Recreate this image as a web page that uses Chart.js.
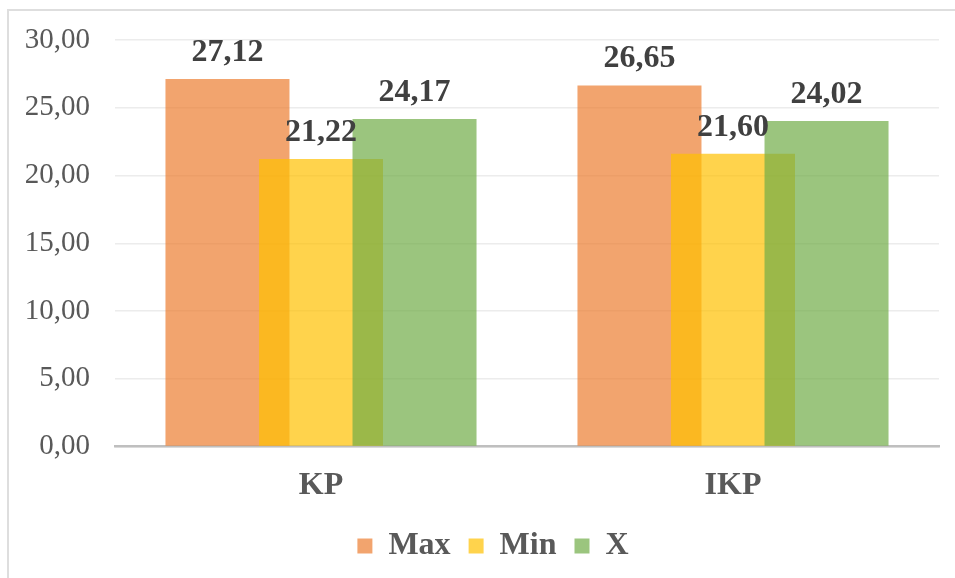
<!DOCTYPE html>
<html>
<head>
<meta charset="utf-8">
<script src="https://cdn.jsdelivr.net/npm/chart.js@4.4.0/dist/chart.umd.min.js"></script>
<style>
  html, body { margin: 0; padding: 0; background: #fff; }
  #page { position: relative; width: 955px; height: 578px; overflow: hidden; background: #fff; }
  #frame { position: absolute; left: 7px; top: 9px; border: 2px solid #dedede; width: 1000px; height: 600px; }
  #frame canvas { position: absolute; left: 0; top: 0; }
</style>
</head>
<body>
<div id="page">
  <div id="frame">
    <canvas id="chart" width="980" height="570"></canvas>
  </div>
</div>
<script>
// chart data
const categories = ['KP', 'IKP'];
const maxValues = [27.12, 26.65];
const minValues = [21.22, 21.60];
const xValues = [24.17, 24.02];
const yTicks = [0, 5, 10, 15, 20, 25, 30];

const serif = "'Liberation Serif', 'Times New Roman', serif";
const fmt = v => v.toFixed(2).replace('.', ',');

// Excel draws later series on top, Chart.js does the reverse: redraw in index order
// and put the value labels over the bars
const barLayers = {
    id: 'barLayers',
    beforeDatasetDraw() {
        return false;
    },
    afterDatasetsDraw(chart) {
        const ctx = chart.ctx;
        chart.data.datasets.forEach((ds, i) => {
            chart.getDatasetMeta(i).controller.draw();
        });
        ctx.save();
        ctx.font = 'bold 32px ' + serif;
        ctx.fillStyle = '#404040';
        ctx.textAlign = 'center';
        ctx.textBaseline = 'alphabetic';
        chart.data.datasets.forEach((ds, i) => {
            chart.getDatasetMeta(i).data.forEach((bar, j) => {
                ctx.fillText(fmt(ds.data[j]), bar.x, bar.y - 18);
            });
        });
        ctx.restore();
    }
};

new Chart(document.getElementById('chart'), {
    type: 'bar',
    data: {
        labels: categories,
        datasets: [{
            label: 'Max',
            data: maxValues,
            backgroundColor: 'rgba(237, 125, 49, 0.7)',
            borderWidth: 0
        },
        {
            label: 'Min',
            data: minValues,
            backgroundColor: 'rgba(255, 192, 0, 0.7)',
            borderWidth: 0
        },
        {
            label: 'X',
            data: xValues,
            backgroundColor: 'rgba(112, 173, 71, 0.7)',
            borderWidth: 0
        }]
    },
    options: {
        responsive: false,
        animation: false,
        categoryPercentage: 0.681,
        barPercentage: 1.326,
        layout: {
            padding: { left: 0, right: 12, top: 29, bottom: 9 }
        },
        plugins: {
            tooltip: { enabled: false },
            legend: {
                position: 'bottom',
                labels: {
                    boxWidth: 15,
                    boxHeight: 15,
                    padding: 18,
                    color: '#595959',
                    font: { family: serif, size: 32, weight: 'bold' }
                }
            }
        },
        scales: {
            x: {
                afterFit: scale => { scale.height -= 13; },
                grid: { display: false, drawTicks: false },
                border: { color: '#bfbfbf', width: 2.5 },
                ticks: {
                    padding: 20,
                    color: '#595959',
                    font: { family: serif, size: 32, weight: 'bold' }
                }
            },
            y: {
                min: yTicks[0],
                max: yTicks[yTicks.length - 1],
                afterFit: scale => { scale.width = 106; },
                afterBuildTicks: scale => { scale.ticks = yTicks.map(v => ({ value: v })); },
                grid: { color: '#ececec', lineWidth: 1.5, drawTicks: true, tickLength: 25, tickColor: 'transparent' },
                border: { display: false },
                ticks: {
                    padding: 0,
                    color: '#595959',
                    font: { family: serif, size: 29 },
                    callback: v => fmt(v)
                }
            },
            // empty space on the right so the legend stays centred on the whole frame
            yRight: {
                position: 'right',
                afterFit: scale => { scale.width = 38; },
                grid: { display: false },
                border: { display: false },
                ticks: { display: false }
            }
        }
    },
    plugins: [barLayers]
});
</script>
</body>
</html>
